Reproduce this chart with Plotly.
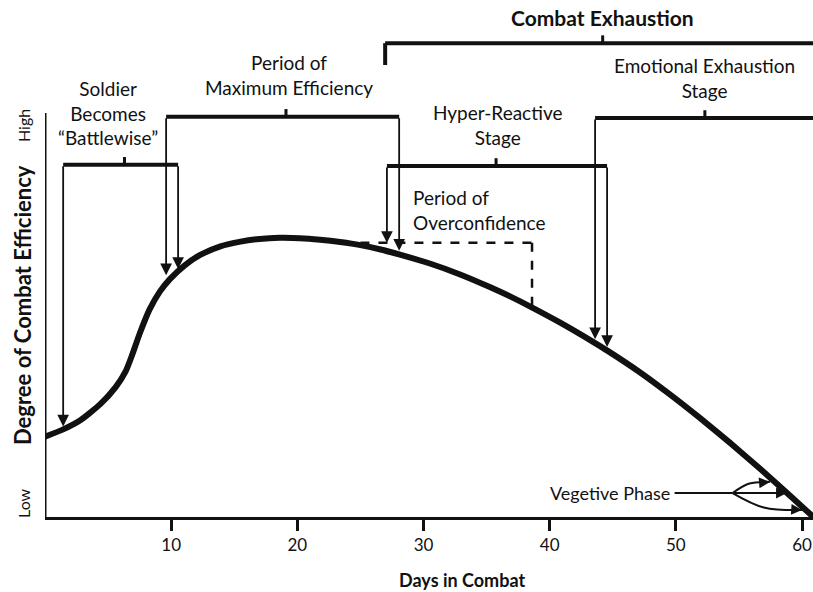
import plotly.graph_objects as go

# ---------------- data ----------------
days = [0, 1.4, 2.8, 4.4, 5.6, 6.4, 6.9, 7.5, 8.3, 9.1, 9.9, 11.1, 12.3, 13.9, 15.5,
        17.0, 18.6, 20.2, 21.8, 23.4, 25.0, 26.6, 28.2, 30.5, 32.9, 35.3, 36.9, 38.5,
        40.8, 43.6, 44.6, 47.2, 49.5, 51.9, 54.3, 56.7, 59.1, 60.9]
efficiency = [20.6, 22.4, 24.8, 29.0, 33.3, 37.4, 41.5, 47.0, 53.3, 57.8, 61.0, 64.6,
              67.2, 69.4, 70.6, 71.3, 71.6, 71.5, 71.1, 70.5, 69.7, 68.6, 67.2, 65.0,
              62.2, 58.9, 56.5, 53.9, 49.9, 44.6, 42.6, 37.0, 31.5, 25.4, 19.0, 12.3,
              5.3, 0.0]
tick_days = [10, 20, 30, 40, 50, 60]
tick_labels = ["10", "20", "30", "40", "50", "60"]

# phases (brackets)
phase_names = ["Soldier<br>Becomes<br>“Battlewise”", "Period of<br>Maximum Efficiency",
               "Hyper-Reactive<br>Stage", "Emotional Exhaustion<br>Stage"]
phase_start = [1.44, 9.6, 27.1, 43.6]
phase_end = [10.55, 28.07, 44.55, 61.5]
phase_level = [90.3, 102.6, 90.0, 102.3]
phase_mid = [6.3, 19.1, 35.75, 52.3]
phase_label_x = [5.0, 19.3, 35.85, 52.3]
phase_label_y = [103.6, 113.3, 100.5, 112.6]
# arrows (day, top level, tip level on curve)
arrow_day = [1.44, 10.55, 9.6, 28.07, 27.1, 44.55, 43.6]
arrow_top = [90.3, 90.3, 102.6, 102.6, 90.0, 90.0, 102.3]
arrow_tip = [23.2, 63.6, 62.0, 68.3, 70.3, 43.6, 45.6]

combat_start, combat_end, combat_level, combat_mid = 26.96, 61.5, 121.5, 44.2
over_start, over_end, over_level, over_bottom = 25.0, 38.6, 70.3, 53.0

veg_from = (54.5, 6.15)
veg_targets = [(57.45, 9.0), (58.8, 6.15), (60.0, 1.8)]

PX_PER_UNIT = 3.9
XMAX = 60.87
YMAX = 517 / PX_PER_UNIT
FONT = "Lato, 'Open Sans', sans-serif"
BLACK = "#111111"


def paper_x(rx):
    return (rx - 45) / 768.0


def paper_y(ry):
    return (517 - ry) / 517.0


fig = go.Figure()
fig.add_trace(go.Scatter(x=days, y=efficiency, mode="lines",
                         line=dict(color=BLACK, width=6, shape="spline", smoothing=0.6),
                         hoverinfo="skip", showlegend=False))

shapes = []
annotations = []

# y axis line (partial)
shapes.append(dict(type="line", xref="x", yref="y", x0=0, x1=0, y0=0, y1=103.6,
                   line=dict(color=BLACK, width=3)))

# phase brackets
for s, e, lv, m in zip(phase_start, phase_end, phase_level, phase_mid):
    shapes.append(dict(type="line", xref="x", yref="y", x0=s, x1=e, y0=lv, y1=lv,
                       line=dict(color=BLACK, width=4)))
    shapes.append(dict(type="line", xref="x", yref="y", x0=m, x1=m, y0=lv, y1=lv + 2.0,
                       line=dict(color=BLACK, width=3)))

for name, lx, ly in zip(phase_names, phase_label_x, phase_label_y):
    annotations.append(dict(x=lx, y=ly, xref="x", yref="y", text=name, showarrow=False,
                            xanchor="center", yanchor="middle",
                            font=dict(family=FONT, size=19, color=BLACK), align="center"))

for d, top, tip in zip(arrow_day, arrow_top, arrow_tip):
    annotations.append(dict(x=d, y=tip, ax=d, ay=top, xref="x", yref="y", axref="x", ayref="y",
                            text="", showarrow=True, arrowhead=2, arrowsize=1.3, arrowwidth=1.8,
                            arrowcolor=BLACK, standoff=0))

# combat exhaustion bracket
shapes.append(dict(type="line", xref="x", yref="y", x0=combat_start, x1=combat_end,
                   y0=combat_level, y1=combat_level, line=dict(color=BLACK, width=4)))
shapes.append(dict(type="line", xref="x", yref="y", x0=combat_start, x1=combat_start,
                   y0=combat_level, y1=combat_level - 5.6, line=dict(color=BLACK, width=4)))
shapes.append(dict(type="line", xref="x", yref="y", x0=combat_mid, x1=combat_mid,
                   y0=combat_level, y1=combat_level + 2.0, line=dict(color=BLACK, width=3)))
annotations.append(dict(x=combat_mid, y=128.0, xref="x", yref="y", text="<b>Combat Exhaustion</b>",
                        xanchor="center", yanchor="middle",
                        showarrow=False, font=dict(family=FONT, size=21, color=BLACK)))

# overconfidence dashed
shapes.append(dict(type="line", xref="x", yref="y", x0=over_start, x1=over_end,
                   y0=over_level, y1=over_level, line=dict(color=BLACK, width=2.5, dash="dash")))
shapes.append(dict(type="line", xref="x", yref="y", x0=over_end, x1=over_end,
                   y0=over_level, y1=over_bottom, line=dict(color=BLACK, width=2.5, dash="dash")))
annotations.append(dict(x=29.0, y=78.7, xref="x", yref="y", xanchor="left", yanchor="middle",
                        text="Period of<br>Overconfidence", showarrow=False, align="left",
                        font=dict(family=FONT, size=19, color=BLACK)))

# vegetive phase
annotations.append(dict(x=49.7, y=veg_from[1], xref="x", yref="y", xanchor="right",
                        yanchor="middle", text="Vegetive Phase", showarrow=False,
                        font=dict(family=FONT, size=18, color=BLACK)))
shapes.append(dict(type="line", xref="x", yref="y", x0=49.9, x1=veg_from[0],
                   y0=veg_from[1], y1=veg_from[1], line=dict(color=BLACK, width=2)))
for tx, ty in veg_targets:
    mx = veg_from[0] + (tx - veg_from[0]) * 0.45
    my = ty + (veg_from[1] - ty) * 0.15
    fig.add_trace(go.Scatter(x=[veg_from[0], mx, tx], y=[veg_from[1], my, ty], mode="lines",
                             line=dict(color=BLACK, width=2, shape="spline"),
                             hoverinfo="skip", showlegend=False))
    annotations.append(dict(x=tx, y=ty, ax=tx - (tx - mx) * 0.3, ay=ty - (ty - my) * 0.3,
                            xref="x", yref="y", axref="x", ayref="y", text="", showarrow=True,
                            arrowhead=2, arrowsize=1.2, arrowwidth=1.8, arrowcolor=BLACK, standoff=0))

# axis side labels
annotations.append(dict(x=paper_x(23), y=paper_y(126), xref="paper", yref="paper", text="High",
                        xanchor="center", yanchor="middle",
                        textangle=-90, showarrow=False, font=dict(family=FONT, size=16, color=BLACK)))
annotations.append(dict(x=paper_x(23), y=paper_y(503), xref="paper", yref="paper", text="Low",
                        xanchor="center", yanchor="middle",
                        textangle=-90, showarrow=False, font=dict(family=FONT, size=16, color=BLACK)))
annotations.append(dict(x=paper_x(22), y=paper_y(305), xref="paper", yref="paper",
                        text="<b>Degree of Combat Efficiency</b>", textangle=-90,
                        xanchor="center", yanchor="middle",
                        showarrow=False, font=dict(family=FONT, size=22, color=BLACK)))
annotations.append(dict(x=paper_x(462), y=paper_y(580), xref="paper", yref="paper",
                        text="<b>Days in Combat</b>", showarrow=False,
                        xanchor="center", yanchor="middle",
                        font=dict(family=FONT, size=18, color=BLACK)))

fig.update_layout(
    width=813, height=592,
    margin=dict(l=45, r=0, t=0, b=75, autoexpand=False),
    paper_bgcolor="white", plot_bgcolor="white",
    shapes=shapes, annotations=annotations,
    showlegend=False,
    xaxis=dict(range=[0, XMAX], tickvals=tick_days, ticktext=tick_labels,
               ticks="outside", ticklen=11, tickwidth=3, tickcolor=BLACK,
               showline=True, linewidth=3, linecolor=BLACK, showgrid=False, zeroline=False,
               tickfont=dict(family=FONT, size=17, color=BLACK), automargin=False),
    yaxis=dict(range=[0, YMAX], showticklabels=False, ticks="", showgrid=False,
               zeroline=False, showline=False, automargin=False),
)

fig.write_html("out.html", config={"displayModeBar": False},
               post_script="document.body.style.margin='0';document.body.style.overflow='hidden';")
